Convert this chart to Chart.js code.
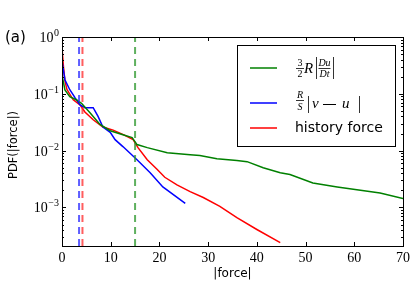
<!DOCTYPE html>
<html>
<head>
<meta charset="utf-8">
<script src="https://cdn.jsdelivr.net/npm/chart.js@4/dist/chart.umd.min.js"></script>
<style>html,body{margin:0;padding:0;background:#fff;}canvas{display:block;}</style>
</head>
<body>
<canvas id="c" width="416" height="283"></canvas>
<script>
// ---- data ----
const greenX = [0, 0.6, 1.6, 3.0, 4.0, 5.7, 7.8, 9.9, 12.5, 14.4, 15.4, 17.5, 21.6, 26.3, 28.3, 31.8, 35.9, 38, 41.3, 44.8, 46.8, 51.5, 56.5, 65.3, 70];
const greenY = [0.215, 0.117, 0.089, 0.078, 0.068, 0.047, 0.029, 0.0224, 0.019, 0.017, 0.0128, 0.0113, 0.0092, 0.0085, 0.0082, 0.0072, 0.0067, 0.0064, 0.005, 0.0041, 0.0038, 0.0027, 0.0023, 0.0018, 0.00144];
const blueX = [0, 0.6, 1.6, 2.7, 3.7, 4.7, 6.4, 7.4, 8.4, 9.9, 10.9, 12.5, 15.4, 18.1, 20.7, 25.3];
const blueY = [0.38, 0.177, 0.118, 0.085, 0.064, 0.057, 0.057, 0.04, 0.026, 0.021, 0.0156, 0.0118, 0.0069, 0.0041, 0.0023, 0.00118];
const redX = [0, 0.3, 0.6, 1.0, 2.3, 3.7, 4.7, 6.4, 8.4, 10.5, 12.7, 14.6, 15.6, 17.5, 19.5, 21.1, 23.6, 26.3, 29, 32.4, 35.9, 40, 44.8];
const redY = [0.65, 0.3, 0.17, 0.12, 0.0785, 0.064, 0.048, 0.035, 0.026, 0.023, 0.019, 0.0156, 0.0113, 0.0069, 0.0047, 0.0034, 0.0025, 0.0019, 0.0015, 0.00105, 0.00066, 0.00041, 0.00024];
const thresholdX = { blue: 3.5, red: 4.2, green: 15 };
const xTicks = [0, 10, 20, 30, 40, 50, 60, 70];
const yDecades = [1e-3, 1e-2, 1e-1, 1];
const yExpLabels = ['\u22123', '\u22122', '\u22121', '0'];
const yMin = 2.1e-4, yMax = 1;

const pts = (xs, ys) => xs.map((x, i) => ({ x: x, y: ys[i] }));
const vline = x => [{ x: x, y: yMin }, { x: x, y: yMax }];

const serif = '"Liberation Serif", "DejaVu Serif", serif';
const sans = '"DejaVu Sans", "Liberation Sans", sans-serif';

const decor = {
  id: 'decor',
  afterDraw(chart) {
    const ctx = chart.ctx, a = chart.chartArea;
    const xs = chart.scales.x, ys = chart.scales.y;
    ctx.save();
    ctx.strokeStyle = '#000';
    ctx.lineWidth = 1;
    // frame
    ctx.strokeRect(Math.round(a.left) + 0.5, Math.round(a.top) + 0.5, Math.round(a.right - a.left), Math.round(a.bottom - a.top));
    // x ticks (inward, top and bottom)
    ctx.beginPath();
    xTicks.forEach(v => {
      const p = Math.round(xs.getPixelForValue(v)) + 0.5;
      ctx.moveTo(p, a.bottom); ctx.lineTo(p, a.bottom - 4);
      ctx.moveTo(p, a.top); ctx.lineTo(p, a.top + 4);
    });
    // y ticks major + minor
    for (let e = -4; e <= 0; e++) {
      for (let k = 1; k <= 9; k++) {
        const v = k * Math.pow(10, e);
        if (v < yMin || v > yMax) continue;
        const p = Math.round(ys.getPixelForValue(v)) + 0.5;
        const len = k === 1 ? 4 : 2;
        ctx.moveTo(a.left, p); ctx.lineTo(a.left + len, p);
        ctx.moveTo(a.right, p); ctx.lineTo(a.right - len, p);
      }
    }
    ctx.stroke();
    // y tick labels 10^n
    ctx.fillStyle = '#000';
    ctx.textBaseline = 'alphabetic';
    yDecades.forEach((v, i) => {
      const p = ys.getPixelForValue(v);
      ctx.font = '10px ' + serif;
      ctx.textAlign = 'right';
      const ew = ctx.measureText(yExpLabels[i]).width;
      ctx.fillText(yExpLabels[i], 59, p - 1);
      ctx.font = '14px ' + serif;
      ctx.fillText('10', 59 - ew - 0.5, p + 5);
    });
    // axis titles
    ctx.font = '12px ' + sans;
    ctx.textAlign = 'center';
    ctx.textBaseline = 'middle';
    ctx.fillText('|force|', (a.left + a.right) / 2, 274);
    ctx.save();
    ctx.translate(14, 145);
    ctx.rotate(-Math.PI / 2);
    ctx.font = '11.5px ' + sans;
    ctx.fillText('PDF(|force|)', 0, 0);
    ctx.restore();
    // panel label
    ctx.font = '15px ' + sans;
    ctx.textAlign = 'left';
    ctx.fillText('(a)', 5, 38);

    // legend
    const L = 237.5, T = 45.5, W = 158, H = 101;
    ctx.fillStyle = '#fff';
    ctx.fillRect(L, T, W, H);
    ctx.strokeStyle = '#000';
    ctx.strokeRect(L, T, W, H);
    const samples = [['#008000', 68], ['#0000ff', 103], ['#ff0000', 128]];
    ctx.lineWidth = 1.5;
    samples.forEach(s => {
      ctx.strokeStyle = s[0];
      ctx.beginPath(); ctx.moveTo(250, s[1]); ctx.lineTo(277, s[1]); ctx.stroke();
    });
    ctx.fillStyle = '#000';
    ctx.strokeStyle = '#000';
    ctx.lineWidth = 0.8;
    ctx.textBaseline = 'alphabetic';
    ctx.textAlign = 'center';
    // entry 1: 3/2 R |Du/Dt|
    ctx.font = '10px ' + serif;
    ctx.fillText('3', 300, 66);
    ctx.fillText('2', 300, 77);
    ctx.beginPath(); ctx.moveTo(296, 68.5); ctx.lineTo(304, 68.5); ctx.stroke();
    ctx.font = 'italic 15px ' + serif;
    ctx.textAlign = 'left';
    ctx.fillText('R', 304, 73);
    ctx.beginPath(); ctx.moveTo(316.5, 57); ctx.lineTo(316.5, 79); ctx.stroke();
    ctx.font = 'italic 10px ' + serif;
    ctx.textAlign = 'center';
    ctx.fillText('Du', 324.5, 66);
    ctx.fillText('Dt', 324.5, 77);
    ctx.beginPath(); ctx.moveTo(318.5, 68.5); ctx.lineTo(330.5, 68.5); ctx.stroke();
    ctx.beginPath(); ctx.moveTo(333.5, 57); ctx.lineTo(333.5, 79); ctx.stroke();
    // entry 2: R/S |v - u|
    ctx.fillText('R', 300, 98);
    ctx.fillText('S', 300, 110);
    ctx.beginPath(); ctx.moveTo(296, 100.5); ctx.lineTo(304, 100.5); ctx.stroke();
    ctx.beginPath(); ctx.moveTo(308.5, 96); ctx.lineTo(308.5, 113); ctx.stroke();
    ctx.font = 'italic 15px ' + serif;
    ctx.textAlign = 'left';
    ctx.fillText('v', 312, 108);
    ctx.lineWidth = 1;
    ctx.beginPath(); ctx.moveTo(323, 104.5); ctx.lineTo(336, 104.5); ctx.stroke();
    ctx.fillText('u', 342, 108);
    ctx.lineWidth = 0.8;
    ctx.beginPath(); ctx.moveTo(359.5, 96); ctx.lineTo(359.5, 113); ctx.stroke();
    // entry 3
    ctx.font = '14px ' + sans;
    ctx.textBaseline = 'middle';
    ctx.fillText('history force', 295, 128);
    ctx.restore();
  }
};

const lineDs = (label, data, color) => ({
  label: label, data: data, borderColor: color, borderWidth: 1.5,
  pointRadius: 0, fill: false, tension: 0
});
const dashDs = (data, color) => ({
  label: '', data: data, borderColor: color, borderWidth: 2, borderDash: [7, 5],
  pointRadius: 0, fill: false, tension: 0
});

new Chart(document.getElementById('c'), {
  type: 'line',
  data: {
    datasets: [
      dashDs(vline(thresholdX.blue), 'rgba(40,40,255,0.75)'),
      dashDs(vline(thresholdX.red), 'rgba(255,40,40,0.75)'),
      dashDs(vline(thresholdX.green), 'rgba(40,150,40,0.75)'),
      lineDs('green', pts(greenX, greenY), '#008000'),
      lineDs('blue', pts(blueX, blueY), '#0000ff'),
      lineDs('red', pts(redX, redY), '#ff0000')
    ]
  },
  options: {
    responsive: false,
    devicePixelRatio: 1,
    animation: false,
    events: [],
    layout: { padding: { left: 0, top: 37, right: 13, bottom: 0 } },
    plugins: { legend: { display: false }, tooltip: { enabled: false }, title: { display: false } },
    scales: {
      x: {
        type: 'linear', min: 0, max: 70,
        grid: { display: false, drawTicks: false },
        border: { display: true, color: '#000', width: 1 },
        ticks: { stepSize: 10, padding: 4, color: '#000', font: { family: serif, size: 14 }, maxRotation: 0 },
        afterFit(s) { s.height = 37; }
      },
      y: {
        type: 'logarithmic', min: yMin, max: yMax,
        grid: { display: false, drawTicks: false },
        border: { display: true, color: '#000', width: 1 },
        ticks: { display: false },
        afterBuildTicks(s) { s.ticks = yDecades.map(v => ({ value: v })); },
        afterFit(s) { s.width = 62; }
      }
    }
  },
  plugins: [decor]
});
</script>
</body>
</html>
